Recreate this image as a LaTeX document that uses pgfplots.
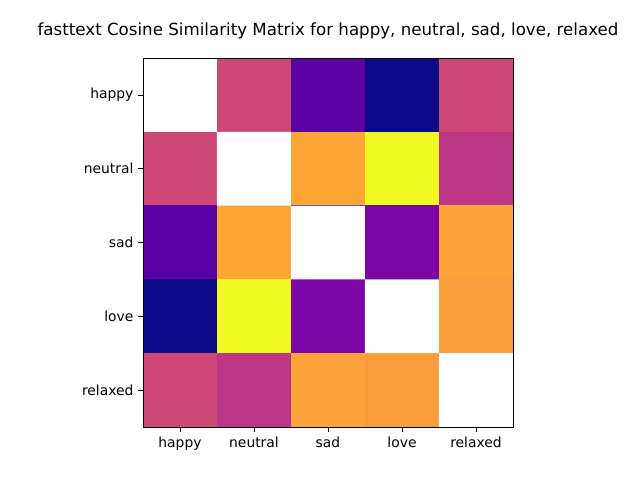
\documentclass[border=0pt]{standalone}
\usepackage{pgfplots}
\pgfplotsset{compat=1.18}
\usepackage{fontspec}
\setmainfont{DejaVu Sans}
\pgfplotsset{colormap={plasma}{
rgb255=(13,8,135) rgb255=(65,4,157) rgb255=(106,0,168) rgb255=(143,13,164)
rgb255=(177,42,144) rgb255=(204,71,120) rgb255=(225,100,98) rgb255=(242,132,75)
rgb255=(252,166,54) rgb255=(252,206,37) rgb255=(240,249,33)}}
\begin{document}
\begin{tikzpicture}
\path[use as bounding box] (-107.25pt,-39.75pt) rectangle (372.75pt,320.25pt);
\begin{axis}[
  at={(0,0)}, anchor=south west,
  scale only axis, width=277.5pt, height=276.75pt,
  xmin=-0.5, xmax=4.5, ymin=-0.5, ymax=4.5,
  y dir=reverse,
  colormap name=plasma,
  point meta min=0, point meta max=1,
  xtick={0,1,2,3,4}, ytick={0,1,2,3,4},
  xticklabels={happy,neutral,sad,love,relaxed},
  yticklabels={happy,neutral,sad,love,relaxed},
  tick align=outside, major tick length=3.65pt,
  tick style={black, line width=0.6pt},
  xtick pos=bottom, ytick pos=left,
  axis line style={black, line width=0.6pt},
  ticklabel style={font=\fontsize{10.4}{12}\selectfont},
  title={fasttext Cosine Similarity Matrix for happy, neutral, sad, love, relaxed},
  title style={font=\fontsize{12.5}{14}\selectfont, at={(0.5,1)}, anchor=south, yshift=4.5pt},
  axis on top,
]
\addplot[matrix plot*, mesh/cols=5, point meta=explicit] table[meta=c] {
x y c
0 0 0
1 0 0.505
2 0 0.16
3 0 0.0
4 0 0.505
0 1 0.505
1 1 0
2 1 0.80
3 1 1.0
4 1 0.44
0 2 0.16
1 2 0.80
2 2 0
3 2 0.25
4 2 0.79
0 3 0.0
1 3 1.0
2 3 0.25
3 3 0
4 3 0.775
0 4 0.505
1 4 0.44
2 4 0.79
3 4 0.775
4 4 0
};
\addplot[fill=white, draw=none] coordinates {(-0.5,-0.5) (0.5,-0.5) (0.5,0.5) (-0.5,0.5) (-0.5,-0.5)};
\addplot[fill=white, draw=none] coordinates {(0.5,0.5) (1.5,0.5) (1.5,1.5) (0.5,1.5) (0.5,0.5)};
\addplot[fill=white, draw=none] coordinates {(1.5,1.5) (2.5,1.5) (2.5,2.5) (1.5,2.5) (1.5,1.5)};
\addplot[fill=white, draw=none] coordinates {(2.5,2.5) (3.5,2.5) (3.5,3.5) (2.5,3.5) (2.5,2.5)};
\addplot[fill=white, draw=none] coordinates {(3.5,3.5) (4.5,3.5) (4.5,4.5) (3.5,4.5) (3.5,3.5)};
\end{axis}
\end{tikzpicture}
\end{document}
